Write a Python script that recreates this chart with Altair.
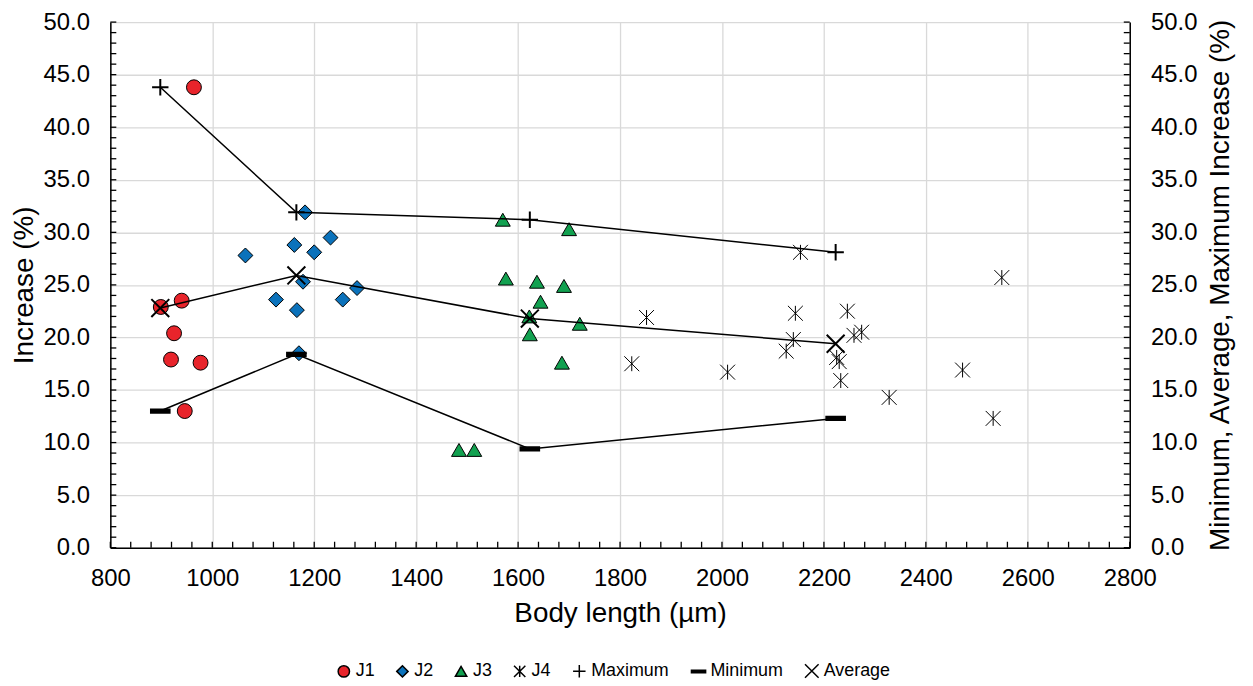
import altair as alt
import pandas as pd

# ---- data ----
J1_X = [964, 899, 940, 925, 919, 977, 946]
J1_Y = [43.8, 22.9, 23.5, 20.4, 17.9, 17.6, 13.0]

J2_X = [1182, 1065, 1161, 1200, 1232, 1178, 1284, 1125, 1256, 1166, 1170]
J2_Y = [31.9, 27.8, 28.8, 28.1, 29.5, 25.3, 24.7, 23.6, 23.6, 22.6, 18.5]

J3_X = [1570, 1700, 1576, 1637, 1690, 1644, 1622, 1721, 1623, 1686, 1484, 1514]
J3_Y = [31.2, 30.3, 25.6, 25.3, 24.9, 23.4, 22.0, 21.3, 20.3, 17.6, 9.3, 9.3]

J4_X = [1852, 1823, 2011, 2144, 2140, 2126, 2154, 2246, 2259, 2274, 2225, 2230,
        2233, 2328, 2472, 2532, 2549]
J4_Y = [21.9, 17.5, 16.7, 22.3, 19.8, 18.7, 28.1, 22.5, 20.2, 20.5, 18.1, 17.7,
        15.9, 14.3, 16.9, 12.3, 25.7]

SUM_X = [898, 1165, 1623, 2223]
MAX_Y = [43.8, 31.9, 31.2, 28.1]
MIN_Y = [13.0, 18.4, 9.4, 12.3]
AVG_Y = [22.8, 25.9, 21.8, 19.4]

SERIES = ["J1", "J2", "J3", "J4", "Maximum", "Minimum", "Average"]
FILLS = ["#E8242B", "#0B72BB", "#12A150", "black", "black", "black", "black"]
STROKES = ["black"] * 7
SHAPES = [
    "circle",
    "diamond",
    "triangle-up",
    "M0,-1L0,1M-1,-1L1,1M-1,1L1,-1",
    "M-1.1,0L1.1,0M0,-1.1L0,1.1",
    "M-1.25,-0.22L1.25,-0.22L1.25,0.22L-1.25,0.22Z",
    "M-1.2,-1.2L1.2,1.2M-1.2,1.2L1.2,-1.2",
]

X_TICK_LABELS = list(range(800, 2801, 200))
X_MINOR = list(range(800, 2801, 40))
Y_TICK_LABELS = list(range(0, 51, 5))
Y_MINOR = list(range(0, 51, 1))

rows = []
for name, xs, ys in [("J1", J1_X, J1_Y), ("J2", J2_X, J2_Y),
                     ("J3", J3_X, J3_Y), ("J4", J4_X, J4_Y)]:
    for x, y in zip(xs, ys):
        rows.append({"body": x, "inc": y, "series": name})
pts = pd.DataFrame(rows)

srows = []
for name, ys in [("Maximum", MAX_Y), ("Minimum", MIN_Y), ("Average", AVG_Y)]:
    for x, y in zip(SUM_X, ys):
        srows.append({"body": x, "inc": y, "series": name})
summ = pd.DataFrame(srows)

W, H = 1026, 529
FONT = "Liberation Sans"
GRID = "#D9D9D9"

xscale = alt.Scale(domain=[800, 2800], nice=False, zero=False)
yscale = alt.Scale(domain=[0, 50], nice=False)

x_axis = alt.Axis(
    values=X_TICK_LABELS, format="d", title="Body length (µm)",
    grid=True, gridColor=GRID, gridWidth=1.3,
    domainColor="black", domainWidth=1.5, ticks=False, tickSize=0,
    labelPadding=19, labelFontSize=24, labelColor="black", labelFont=FONT,
    labelFlush=False, labelOverlap=False,
    titleFont=FONT, titleFontSize=28, titleFontWeight="normal", titleColor="black",
    titleX=W / 2, titleY=74, titleBaseline="alphabetic", titleAlign="center",
)

yl_axis = alt.Axis(
    orient="left", values=Y_TICK_LABELS, format=".1f", title="Increase (%)",
    grid=True, gridColor=GRID, gridWidth=1.3,
    domainColor="black", domainWidth=1.5, ticks=False, tickSize=0,
    labelPadding=21, labelFontSize=24, labelColor="black", labelFont=FONT,
    labelFlush=False, labelOverlap=False,
    titleFont=FONT, titleFontSize=28, titleFontWeight="normal", titleColor="black",
    titleAngle=270, titleX=-86, titleY=H / 2, titleAlign="center", titleBaseline="middle",
)

yr_axis = alt.Axis(
    orient="right", values=Y_TICK_LABELS, format=".1f",
    title="Minimum, Average, Maximum Increase (%)",
    grid=False, domainColor="black", domainWidth=1.5, ticks=False, tickSize=0,
    labelPadding=21, labelFontSize=24, labelColor="black", labelFont=FONT,
    labelFlush=False, labelOverlap=False,
    titleFont=FONT, titleFontSize=28, titleFontWeight="normal", titleColor="black",
    titleAngle=270, titleX=91, titleY=H / 2, titleAlign="center", titleBaseline="middle",
)

legend = alt.Legend(
    orient="none", legendX=226, legendY=644, direction="horizontal",
    labelFontSize=18, labelFont=FONT, labelColor="black",
    symbolSize=130, symbolStrokeWidth=1.5,
    columnPadding=18, labelOffset=3,
)

shape_enc = alt.Shape("series:N", scale=alt.Scale(domain=SERIES, range=SHAPES),
                      legend=legend, title=None)
fill_enc = alt.Fill("series:N", scale=alt.Scale(domain=SERIES, range=FILLS),
                    legend=legend, title=None)
stroke_enc = alt.Stroke("series:N", scale=alt.Scale(domain=SERIES, range=STROKES),
                        legend=legend, title=None)

x_minor = alt.Chart(pd.DataFrame({"t": X_MINOR})).mark_rule(
    color="black", strokeWidth=1.3).encode(
    x=alt.X("t:Q", scale=xscale, axis=x_axis),
    y=alt.value(H - 6), y2=alt.value(H))

yl_minor = alt.Chart(pd.DataFrame({"v": Y_MINOR})).mark_rule(
    color="black", strokeWidth=1.3).encode(
    y=alt.Y("v:Q", scale=yscale, axis=None),
    x=alt.value(0), x2=alt.value(6))

yr_minor = alt.Chart(pd.DataFrame({"v": Y_MINOR})).mark_rule(
    color="black", strokeWidth=1.3).encode(
    y=alt.Y("v:Q", scale=yscale, axis=yr_axis),
    x=alt.value(W - 6), x2=alt.value(W))

lines = alt.Chart(summ).mark_line(color="black", strokeWidth=1.5).encode(
    x=alt.X("body:Q", scale=xscale, axis=x_axis),
    y=alt.Y("inc:Q", scale=yscale, axis=None),
    detail="series:N")

scatter = alt.Chart(pts).mark_point(
    filled=True, size=225, strokeWidth=1, opacity=1).encode(
    x=alt.X("body:Q", scale=xscale, axis=x_axis),
    y=alt.Y("inc:Q", scale=yscale, axis=yl_axis),
    shape=shape_enc, fill=fill_enc, stroke=stroke_enc)

summary = alt.Chart(summ).mark_point(
    filled=True, size=225, strokeWidth=2, opacity=1).encode(
    x=alt.X("body:Q", scale=xscale, axis=x_axis),
    y=alt.Y("inc:Q", scale=yscale, axis=None),
    shape=shape_enc, fill=fill_enc, stroke=stroke_enc)

chart = alt.layer(scatter, yr_minor, yl_minor, x_minor, lines, summary).resolve_scale(
    y="independent"
).properties(
    width=W, height=H,
    padding={"left": 103, "top": 12, "right": 116, "bottom": 136},
    autosize=alt.AutoSizeParams(type="none"),
).configure(font=FONT).configure_view(strokeWidth=0)

chart.save("out.html", embed_options={"renderer": "svg", "actions": False})
